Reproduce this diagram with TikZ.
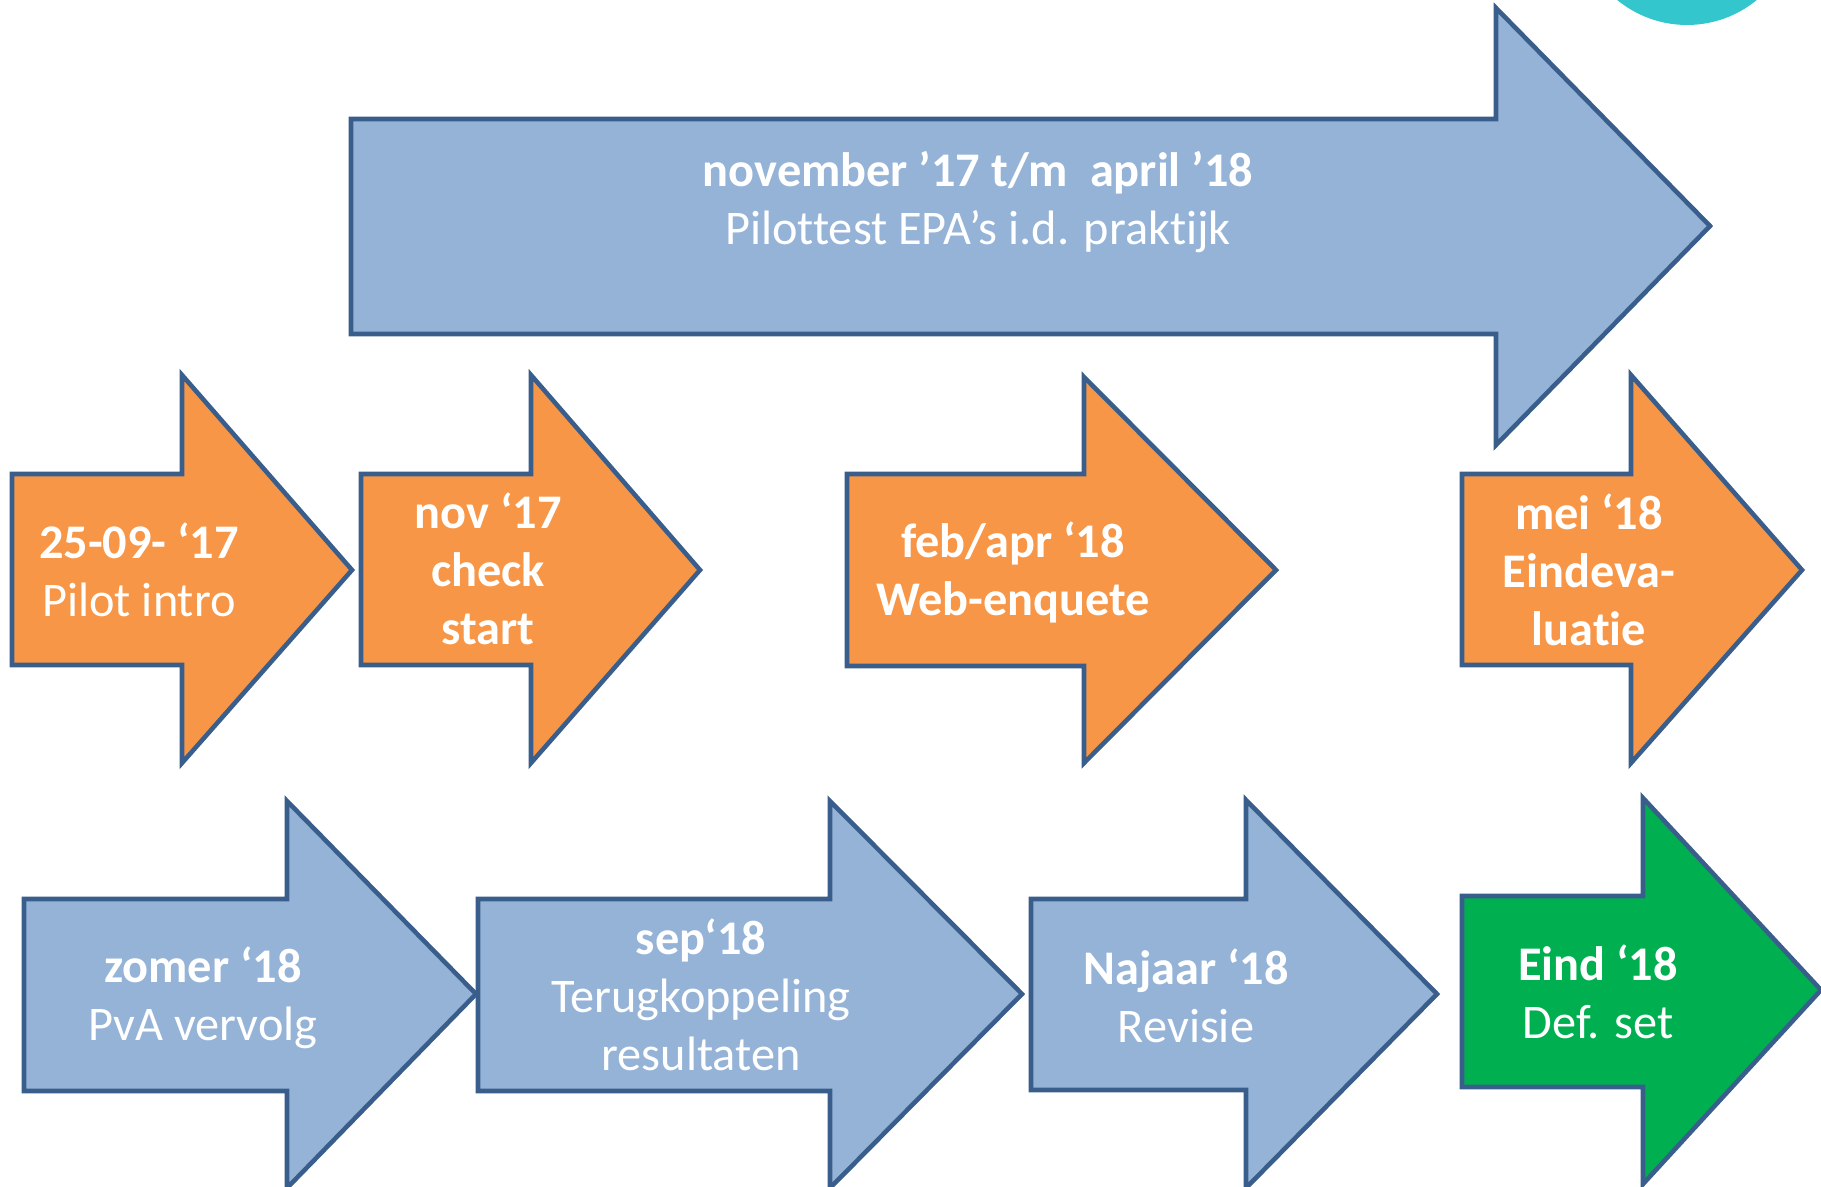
\documentclass[tikz,border=0pt]{standalone}
\usepackage{fontspec}
\setmainfont{Carlito}[Ligatures={NoCommon}]
\usepackage{tikz}
\definecolor{edgeblue}{HTML}{3A5E8C}
\definecolor{pptorange}{HTML}{F79646}
\definecolor{pptblue}{HTML}{95B3D7}
\definecolor{pptgreen}{HTML}{00B050}
\definecolor{pptteal}{HTML}{33C6CC}

\begin{document}
\begin{tikzpicture}[x=0.02cm,y=-0.02cm,%
% common options for the arrows:
arrowbox/.style = {draw=edgeblue, line width=2.6pt, line join=miter},
orangearrow/.style = {arrowbox, fill=pptorange},
bluearrow/.style = {arrowbox, fill=pptblue},
greenarrow/.style = {arrowbox, fill=pptgreen},
% common options for the texts:
lbl/.style = {text=white, align=center, anchor=center, inner sep=0,
            font=\fontsize{27.5}{33}\selectfont}]
\clip (0,0) rectangle (1821,1186);

\fill[pptteal] (1687,-85) circle (2.2cm);

% top arrow
\draw[bluearrow] (351,119) -- (1496,119) -- (1496,8) -- (1710,226) -- (1496,445) -- (1496,334) -- (351,334) -- cycle;
\node[lbl] (T0) at (978,202) {\textbf{november ’17 t/m~~april ’18}\\Pilottest EPA’s i.d. praktijk};

% middle row
\draw[orangearrow] (12,474) -- (182,474) -- (182,375) -- (352,570) -- (182,763) -- (182,665) -- (12,665) -- cycle;
\draw[orangearrow] (361,474) -- (531,474) -- (531,375) -- (700,570) -- (531,763) -- (531,665) -- (361,665) -- cycle;
\draw[orangearrow] (847,474) -- (1084,474) -- (1084,377) -- (1276,570) -- (1084,763) -- (1084,666) -- (847,666) -- cycle;
\draw[orangearrow] (1462,474) -- (1631,474) -- (1631,375) -- (1802,570) -- (1631,763) -- (1631,665) -- (1462,665) -- cycle;

\node[lbl] (A1) at (139,570) {\textbf{25-09- ‘17}\\Pilot intro};
\node[lbl] (A2) at (488,569) {\textbf{nov ‘17}\\\textbf{check}\\\textbf{start}};
\node[lbl] (A3) at (1013,572) {\textbf{feb/apr ‘18}\\\textbf{Web-enquete}};
\node[lbl] (A4) at (1589,570) {\textbf{mei ‘18}\\\textbf{Eindeva-}\\\textbf{luatie}};

% bottom row
\draw[bluearrow] (24,899) -- (287,899) -- (287,801) -- (476,994) -- (287,1188) -- (287,1091) -- (24,1091) -- cycle;
\draw[bluearrow] (478,899) -- (830,899) -- (830,801) -- (1022,994) -- (830,1188) -- (830,1091) -- (478,1091) -- cycle;
\draw[bluearrow] (1031,899) -- (1246,899) -- (1246,800) -- (1437,994) -- (1246,1188) -- (1246,1090) -- (1031,1090) -- cycle;
\draw[greenarrow] (1462,896) -- (1643,896) -- (1643,798) -- (1821,990) -- (1643,1184) -- (1643,1087) -- (1462,1087) -- cycle;

\node[lbl] (B1) at (203,998) {\textbf{zomer ‘18}\\PvA vervolg};
\node[lbl] (B2) at (701,995) {\textbf{sep‘18}\\Terugkoppeling\\resultaten};
\node[lbl] (B3) at (1186,996) {\textbf{Najaar ‘18}\\Revisie};
\node[lbl] (B4) at (1598,992) {\textbf{Eind ‘18}\\Def. set};
\end{tikzpicture}
\end{document}
